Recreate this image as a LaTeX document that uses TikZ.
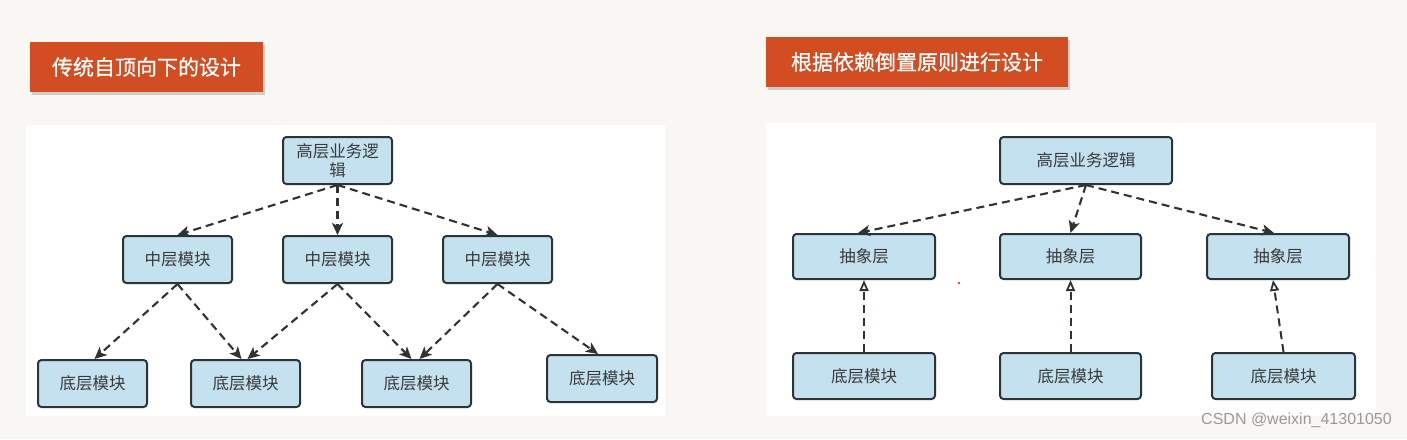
\documentclass[tikz,border=0pt]{standalone}
\usepackage{fontspec}
\setmainfont{Noto Sans CJK SC}
\newfontfamily\titlefont[FakeBold=0.7]{Noto Sans CJK SC}
\newfontfamily\wmfont{Liberation Sans}
\usetikzlibrary{arrows.meta,shadows}
\definecolor{bgc}{HTML}{F9F7F3}
\definecolor{titlered}{HTML}{D24D22}
\definecolor{boxfill}{HTML}{C4E1F0}
\definecolor{boxline}{HTML}{2E3436}
\definecolor{txt}{HTML}{3A3A3A}
\tikzset{
  titlebox/.style={fill=titlered, text=white, inner sep=0pt, font=\titlefont\fontsize{21}{24}\selectfont,
    drop shadow={shadow xshift=2pt, shadow yshift=-3pt, fill=black!35, opacity=0.5}},
  box/.style={draw=boxline, line width=2pt, fill=boxfill, rounded corners=3.5pt, inner sep=0pt,
    text=txt, font=\fontsize{16.5}{20}\selectfont, align=center},
  dep/.style={draw=boxline, line width=2.1pt, dash pattern=on 8pt off 5pt, -{Stealth[length=12pt,width=11pt,inset=3pt]}},
  real/.style={draw=boxline, line width=2pt, dash pattern=on 8pt off 5pt, -{Triangle[open,length=11pt,width=9pt,line width=1.8pt]}},
}
\begin{document}
\begin{tikzpicture}[x=1pt,y=-1pt]
\fill[bgc] (0,0) rectangle (1407,439);
\useasboundingbox (0,0) rectangle (1407,439);
% panels
\fill[white] (26,125) rectangle (665,416);
\fill[white] (766,123) rectangle (1376,416);
% titles
\node[titlebox, minimum width=233pt, minimum height=50pt] (tl) at (146.5,67) {传统自顶向下的设计};
\node[titlebox, minimum width=302pt, minimum height=50pt] (tr) at (917,62) {根据依赖倒置原则进行设计};
% left diagram
\node[box, minimum width=109pt, minimum height=47pt, font=\fontsize{16.5}{19.5}\selectfont] (top) at (337.5,160.5) {高层业务逻\\辑};
\node[box, minimum width=109pt, minimum height=47pt] (m1) at (177.5,259.5) {中层模块};
\node[box, minimum width=109pt, minimum height=47pt] (m2) at (337.5,259.5) {中层模块};
\node[box, minimum width=109pt, minimum height=47pt] (m3) at (497.5,259.5) {中层模块};
\node[box, minimum width=109pt, minimum height=47pt] (b1) at (92.5,383.5) {底层模块};
\node[box, minimum width=109pt, minimum height=47pt] (b2) at (245.5,383.5) {底层模块};
\node[box, minimum width=109pt, minimum height=47pt] (b3) at (416.5,383.5) {底层模块};
\node[box, minimum width=110pt, minimum height=47pt] (b4) at (602,378.5) {底层模块};
\draw[dep] (top.south) -- (m1.north);
\draw[dep] (top.south) -- (m2.north);
\draw[dep] (top.south) -- (m3.north);
\draw[dep] (m1.south) -- ([xshift=2pt]b1.north);
\draw[dep] (m1.south) -- ([xshift=-4pt]b2.north);
\draw[dep] (m2.south) -- ([xshift=2pt]b2.north);
\draw[dep] (m2.south) -- ([xshift=-5pt]b3.north);
\draw[dep] (m3.south) -- ([xshift=3pt]b3.north);
\draw[dep] (m3.south) -- ([xshift=-4pt]b4.north);
% right diagram
\node[box, minimum width=172pt, minimum height=47pt] (rt) at (1086,160.5) {高层业务逻辑};
\node[box, minimum width=142pt, minimum height=45pt] (a1) at (864,256.5) {抽象层};
\node[box, minimum width=141pt, minimum height=45pt] (a2) at (1070.5,256.5) {抽象层};
\node[box, minimum width=142pt, minimum height=45pt] (a3) at (1278,256.5) {抽象层};
\node[box, minimum width=142pt, minimum height=46pt] (c1) at (864,376) {底层模块};
\node[box, minimum width=141pt, minimum height=46pt] (c2) at (1070.5,376) {底层模块};
\node[box, minimum width=143pt, minimum height=46pt] (c3) at (1283.5,376) {底层模块};
\draw[dep] (rt.south) -- ([xshift=-6pt]a1.north);
\draw[dep] (rt.south) -- (a2.north);
\draw[dep] (rt.south) -- ([xshift=-4pt]a3.north);
\draw[real] (c1.north) -- (a1.south);
\draw[real] (c2.north) -- (a2.south);
\draw[real] (c3.north) -- ([xshift=-5pt]a3.south);
% stray dot
\fill[titlered] (959,283) circle (1.3pt);
% watermark
\node[anchor=east, text=black!40, font=\wmfont\fontsize{16}{19}\selectfont, inner sep=0pt] (wm) at (1392,420) {CSDN @weixin\_41301050};
\end{tikzpicture}
\end{document}
